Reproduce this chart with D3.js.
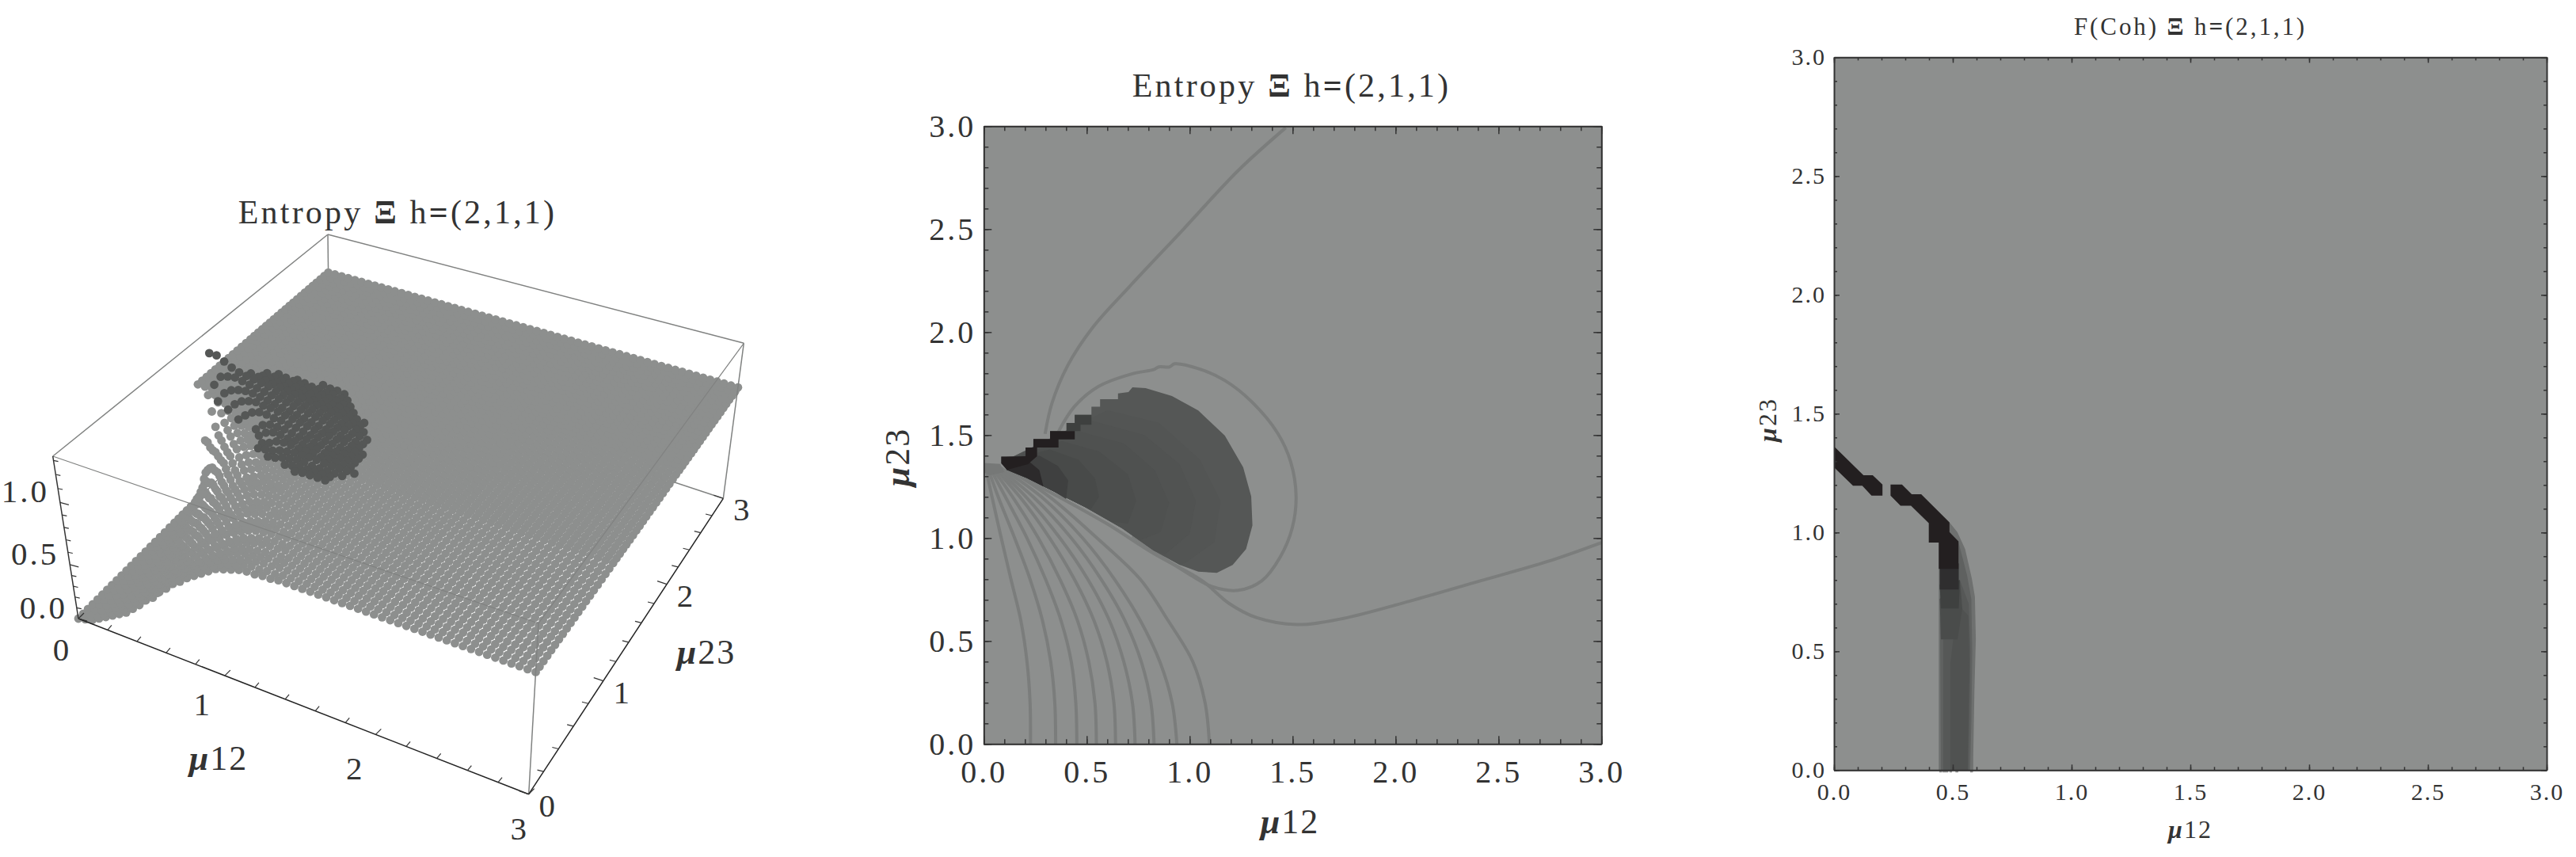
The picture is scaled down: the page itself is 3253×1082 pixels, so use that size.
<!DOCTYPE html>
<html>
<head>
<meta charset="utf-8">
<title>Entropy and F(Coh)</title>
<script src="https://cdn.jsdelivr.net/npm/d3@7"></script>
<style>
  html, body { margin: 0; background: #fff; }
  svg { display: block; }
  text { font-family: "Liberation Serif", serif; fill: #333; }
  .mu { font-style: italic; font-weight: bold; }
  .heavy { font-weight: bold; }
  .tick line, .domain { stroke: #333; }
</style>
</head>
<body>
<svg id="chart" width="3253" height="1082"></svg>
<script>
// ---- data ----
var latticeStep = 0.05
var latticeCount = 61
var plateauZ = 100

// left panel, gray sheet: z*100 per mu23 row, one value per mu12 lattice step from 0. Past the end of a row it is the plateau
var sheetRowMu23 = [0, 0.05, 0.1, 0.15, 0.2, 0.25, 0.3, 0.35, 0.4, 0.45, 0.5, 0.55, 0.6, 0.65, 0.7, 0.75, 0.8, 0.85, 0.9, 0.95, 1, 1.05, 1.1, 1.15, 1.2, 1.25, 1.3, 1.35]
var sheetRowZ = [
  [0,2,4,8,12,16,20,24,30,36,43,48,55,60,66,70,75,79,83,87,91,93,95,97,98,98,99,99],
  [0,2,4,8,12,16,20,24,30,36,43,48,55,60,66,70,75,79,83,87,91,93,95,97,98,98,99,99],
  [0,2,4,8,12,16,20,25,30,37,43,48,55,61,66,71,75,79,84,88,91,93,95,97,98,99,99],
  [0,2,4,8,12,17,21,25,31,37,44,49,56,61,67,71,76,80,84,88,92,94,96,97,98,99,99],
  [0,2,4,8,12,17,21,25,31,37,44,49,56,61,67,71,76,80,84,88,92,94,96,97,98,99,99],
  [0,2,5,8,13,17,21,26,32,38,45,51,57,63,69,73,78,82,86,90,93,95,97,98,99,99],
  [0,2,5,8,13,17,21,26,32,38,45,51,57,63,69,73,78,82,86,90,93,95,97,98,99,99],
  [0,2,5,9,13,18,22,28,34,41,47,54,60,66,71,76,80,85,89,92,95,97,98,99,99],
  [0,2,5,9,13,18,22,28,34,41,47,54,60,66,71,76,80,85,89,92,95,97,98,99,99],
  [0,2,5,9,13,18,23,29,36,42,48,55,61,67,72,77,82,86,90,93,95,97,98,99],
  [0,2,5,9,14,19,24,31,38,44,51,58,64,70,75,80,85,89,93,95,97,98,99],
  [0,3,6,10,14,20,25,32,39,46,54,60,67,72,78,82,87,91,94,96,98,98,99],
  [0,3,6,10,15,20,26,33,41,48,56,63,69,74,79,85,89,93,95,97,98,99],
  [0,3,6,11,16,21,28,36,44,51,59,66,72,77,83,88,92,95,97,98,99],
  [0,3,7,12,17,23,30,38,47,55,62,69,75,80,86,91,94,97,98,99],
  [0,3,7,12,18,24,32,41,49,57,65,72,78,83,89,93,95,98,98,99],
  [0,3,7,13,19,25,34,43,52,60,67,74,80,86,91,94,97,98,99],
  [0,3,8,14,20,28,38,47,57,65,72,79,85,91,94,97,98,99],
  [0,3,9,15,22,31,42,51,61,69,77,83,90,94,96,98,99],
  [0,4,10,17,25,36,47,58,68,76,83,90,94,97,98,99],
  [0,4,11,20,30,43,54,65,75,83,91,95,98,99],
  [0,5,13,22,35,48,61,72,81,90,95,98,99],
  [0,6,16,27,43,58,70,80,91,96,98,99],
  [0,7,19,34,52,68,80,91,97,99],
  [0,10,24,44,64,79,92,98],
  [0,13,35,61,81,95,99],
  [0,22,60,89,99],
  [0,56,98]
]

// left panel, dark dots: row mu23, first mu12, z*100 for each following lattice step
var darkRowMu23 = [1.7, 1.65, 1.6, 1.55, 1.5, 1.45, 1.4, 1.35, 1.3, 1.25, 1.2, 1.15, 1.1, 1.05, 1, 0.95, 0.9, 0.85]
var darkRowStart = [0.7, 0.55, 0.45, 0.4, 0.4, 0.35, 0.1, 0.15, 0.2, 0.3, 0.4, 0.55, 0.6, 0.65, 0.65, 0.75, 0.9, 1]
var darkRowZ = [
  [106,105,105,104],
  [108,107,106,106,105,105,104,104],
  [112,111,110,109,108,107,106,105,105,104,104],
  [114,113,112,111,110,109,108,107,106,105,105,104,104],
  [115,114,113,112,111,110,109,108,107,106,105,105,104,104,103],
  [118,117,116,115,114,113,112,111,110,109,108,107,106,105,104,104],
  [128,128,125,122,120,119,118,117,116,114,113,112,111,110,109,108,107,106,105,105,104,104],
  [108,116,118,119,118,117,116,115,114,113,112,111,110,109,108,107,106,105,105,104,104,103],
  [100,108,112,114,115,115,114,113,112,111,110,109,108,107,106,105,105,104,104,103,103],
  [100,106,110,112,113,112,112,111,110,109,108,107,106,105,105,104,104,103,103],
  [99,104,108,110,110,109,109,108,107,106,105,105,104,104,103,103,103,103],
  [100,105,107,107,107,106,105,105,104,104,103,103,103,103,103],
  [100,104,106,106,105,105,104,104,104,103,103,103,103,103],
  [99,101,104,105,105,104,104,104,103,103,103,103,103],
  [98,99,100,102,103,104,104,104,104,103,103,103,103,103],
  [99,100,102,103,104,104,103,103,103,103,103],
  [102,103,104,104,104,104,104],
  [104,105,105,105,105]
]

// middle panel
var fanMu23 = [0, 0.2, 0.4, 0.6, 0.8, 1, 1.2, 1.34]
var fanMu12 = [
  [0.227,0.225,0.21,0.18,0.132,0.085,0.04,0.01],
  [0.349,0.345,0.325,0.285,0.225,0.15,0.07,0.02],
  [0.452,0.447,0.425,0.375,0.3,0.21,0.105,0.03],
  [0.547,0.54,0.51,0.455,0.37,0.265,0.14,0.04],
  [0.64,0.632,0.598,0.535,0.44,0.32,0.175,0.05],
  [0.735,0.722,0.68,0.61,0.505,0.37,0.205,0.06],
  [0.827,0.812,0.765,0.685,0.57,0.425,0.24,0.07],
  [0.938,0.915,0.855,0.76,0.635,0.48,0.28,0.085],
  [1.096,1.075,1.015,0.895,0.76,0.55,0.32,0.11]
]
var upperBranch = [[1.467,2.993],[1.235,2.784],[0.971,2.501],[0.706,2.219],[0.529,2.022],[0.408,1.838],[0.331,1.654],[0.298,1.506]]
var lowerBranch = [[0.113,1.331],[0.337,1.215],[0.594,1.072],[0.825,0.925],[1.059,0.794],[1.191,0.683],[1.324,0.614],[1.522,0.58],[1.743,0.609],[2.074,0.695],[2.405,0.79],[2.735,0.885],[3,0.978]]
var innerLoop = [[0.363,1.517],[0.44,1.638],[0.555,1.735],[0.722,1.798],[0.825,1.818],[0.85,1.831],[0.902,1.831],[0.927,1.846],[1.042,1.823],[1.171,1.765],[1.299,1.664],[1.427,1.51],[1.491,1.369],[1.517,1.202],[1.498,1.048],[1.44,0.908],[1.35,0.792],[1.235,0.746],[1.107,0.765],[0.978,0.837],[0.85,0.919],[0.722,1.01]]
var tangle = [[0,1.365],[0.08,1.36],[0.1,1.32],[0.03,1.305],[0,1.32]]
var blobOutline = [[0.085,1.395],[0.203,1.397],[0.203,1.44],[0.241,1.44],[0.241,1.481],[0.322,1.481],[0.322,1.519],[0.402,1.519],[0.402,1.559],[0.442,1.559],[0.442,1.598],[0.523,1.598],[0.523,1.638],[0.565,1.638],[0.565,1.674],[0.652,1.674],[0.652,1.702],[0.703,1.709],[0.722,1.732],[0.786,1.728],[0.914,1.69],[1.042,1.619],[1.171,1.497],[1.26,1.343],[1.299,1.202],[1.305,1.062],[1.274,0.946],[1.209,0.869],[1.132,0.831],[1.042,0.837],[0.953,0.869],[0.825,0.94],[0.671,1.048],[0.491,1.151],[0.337,1.228],[0.209,1.292],[0.113,1.331],[0.085,1.363]]
var undersideBack = [[0.953,0.869],[0.825,0.94],[0.671,1.048],[0.491,1.151],[0.337,1.228],[0.209,1.292],[0.113,1.331],[0.09,1.37]]
var blobBandColors = ["#535554", "#515352", "#4f5150", "#4c4e4d", "#484a49", "#3f4040", "#2c2a2b"]
var blobBandArcs = [
  [[0.6,1.62],[0.85,1.56],[1.05,1.38],[1.15,1.18],[1.12,0.98],[0.98,0.88]],
  [[0.52,1.57],[0.78,1.5],[0.95,1.36],[1.03,1.18],[1,1.02],[0.88,0.92]],
  [[0.45,1.52],[0.68,1.46],[0.83,1.33],[0.9,1.17],[0.86,1.03],[0.76,0.99]],
  [[0.38,1.47],[0.56,1.42],[0.7,1.31],[0.74,1.18],[0.7,1.07],[0.62,1.08]],
  [[0.32,1.43],[0.46,1.38],[0.54,1.29],[0.56,1.2],[0.52,1.14]],
  [[0.27,1.4],[0.36,1.35],[0.41,1.28],[0.4,1.19]],
  [[0.21,1.38],[0.27,1.33],[0.29,1.25]]
]
var stairBlack = [[0.085,1.395],[0.203,1.397],[0.203,1.44],[0.241,1.44],[0.241,1.481],[0.322,1.481],[0.322,1.519],[0.442,1.519],[0.442,1.479],[0.363,1.479],[0.363,1.44],[0.259,1.44],[0.259,1.397],[0.215,1.359],[0.113,1.331],[0.085,1.363]]
var stairFade = [[0.402,1.519],[0.402,1.559],[0.442,1.559],[0.442,1.598],[0.523,1.598],[0.523,1.55],[0.47,1.55],[0.47,1.519]]

// right panel
var stripeLeft = [[0,1.363],[0.124,1.241],[0.163,1.241],[0.204,1.202],[0.204,1.155],[0.158,1.155],[0.119,1.197],[0.08,1.197],[0,1.274]]
var stripeRight = [[0.238,1.202],[0.286,1.202],[0.327,1.161],[0.367,1.161],[0.486,1.043],[0.486,1.002],[0.524,0.963],[0.524,0.847],[0.441,0.847],[0.441,0.958],[0.399,0.958],[0.399,1.039],[0.324,1.113],[0.28,1.113],[0.238,1.155]]
var cohColors = ["#6e706f", "#5f6160", "#565857", "#505251", "#4a4c4b", "#3f4140", "#2f2e2f"]
var cohBands = [
  [[0.441,0.958],[0.486,1.043],[0.519,1.002],[0.552,0.93],[0.58,0.807],[0.593,0.73],[0.597,0.553],[0.591,0.33],[0.586,0.052],[0.586,0],[0.441,0]],
  [[0.445,0.84],[0.524,0.96],[0.56,0.82],[0.578,0.72],[0.582,0.5],[0.578,0.2],[0.573,0],[0.45,0]],
  [[0.46,0.6],[0.53,0.8],[0.567,0.7],[0.574,0.5],[0.57,0.2],[0.566,0],[0.46,0]],
  [[0.49,0.45],[0.52,0.7],[0.565,0.65],[0.57,0.45],[0.565,0.2],[0.562,0],[0.49,0]],
  [[0.445,0.72],[0.45,0.55],[0.52,0.55],[0.54,0.68],[0.53,0.8]],
  [[0.445,0.78],[0.45,0.68],[0.525,0.68],[0.53,0.8]],
  [[0.445,0.87],[0.445,0.76],[0.525,0.76],[0.525,0.87]]
]
var cohStubs = [[0.443,0.455],[0.457,0.481],[0.486,0.497],[0.511,0.523],[0.573,0.585]]

// ticks
var ticks12 = d3.range(0, 16).map(function(i) { return i / 5 })
var ticksZ = d3.range(0, 14).map(function(i) { return i / 10 })
var labels12 = [0, 1, 2, 3]
var labelsZ = ["0.0", "0.5", "1.0"]
var minor2d = d3.range(0, 31).map(function(i) { return i / 10 })
var major2d = [0, 0.5, 1, 1.5, 2, 2.5, 3]

// ---- layout ----
var grayFill = "#8d8f8e", darkFill = "#555756", lineGray = "#7b7d7c", boxGray = "#808281"
var svg = d3.select("#chart")

function rotatedTitle(g, x, y, size, parts, spacing) {
  var t = g.append("text").attr("x", x).attr("y", y).attr("font-size", size)
    .attr("text-anchor", "middle").attr("letter-spacing", spacing)
  parts.forEach(function(p) {
    t.append("tspan").attr("class", p[1]).text(p[0])
  })
  return t
}

function muLabel(g, x, y, size, digits, rotate) {
  var t = g.append("text").attr("font-size", size).attr("text-anchor", "middle").attr("letter-spacing", 2)
  if (rotate) t.attr("transform", "translate(" + x + "," + y + ") rotate(-90)")
  else t.attr("x", x).attr("y", y)
  t.append("tspan").attr("class", "mu").text("\u03bc")
  t.append("tspan").text(digits)
}

var titleEntropy = [["Entropy ", ""], ["\u039e", "heavy"], [" h", ""], ["=", "heavy"], ["(2,1,1)", ""]]
var titleCoh = [["F(Coh) ", ""], ["\u039e", "heavy"], [" h", ""], ["=", "heavy"], ["(2,1,1)", ""]]

// ---- left panel: 3D dots ----
var box = {
  a: [99, 781], b: [667.7, 1002.7], c: [913.3, 629.3], d: [416, 465],
  a2: [66.7, 576], b2: [680, 787], c2: [939.3, 433.3], d2: [414, 296]
}
var uScale = d3.scaleLinear().domain([0, 1, 2, 3]).range([0, 0.325, 0.66, 1])
var vScale = d3.scaleLinear().domain([0, 1, 2, 3]).range([0, 0.383, 0.71, 1])
var wScale = d3.scaleLinear().domain([0, 0.5, 1, 1.33]).range([0, 0.332, 0.715, 1])

function project(m12, m23, z) {
  var u = uScale(m12), v = vScale(m23), w = wScale(z)
  var bottom = d3.interpolate(d3.interpolate(box.a, box.b)(u), d3.interpolate(box.d, box.c)(u))(v)
  var top = d3.interpolate(d3.interpolate(box.a2, box.b2)(u), d3.interpolate(box.d2, box.c2)(u))(v)
  return d3.interpolate(bottom, top)(w)
}

var left = svg.append("g")

function boxEdge(from, to, color, width) {
  left.append("line").attr("x1", from[0]).attr("y1", from[1]).attr("x2", to[0]).attr("y2", to[1])
    .attr("stroke", color).attr("stroke-width", width)
}

// edges behind the dots
boxEdge(box.a, box.d, boxGray, 1.5)
boxEdge(box.d, box.c, boxGray, 1.5)
boxEdge(box.d, box.d2, boxGray, 1.5)
boxEdge(box.a2, box.d2, boxGray, 1.5)

var sheetDots = []
d3.range(0, latticeCount).forEach(function(j) {
  var mu23 = j * latticeStep
  var row = sheetRowZ[sheetRowMu23.indexOf(mu23 > 1.351 ? -1 : +mu23.toFixed(2))]
  d3.range(0, latticeCount).forEach(function(i) {
    var z = row && i < row.length ? row[i] : plateauZ
    sheetDots.push({ m12: i * latticeStep, m23: mu23, z: z / 100 })
  })
})
left.append("g").attr("fill", grayFill).selectAll("circle").data(sheetDots).join("circle")
  .attr("cx", function(d) { return project(d.m12, d.m23, d.z)[0] })
  .attr("cy", function(d) { return project(d.m12, d.m23, d.z)[1] })
  .attr("r", 5.4)

var darkDots = []
darkRowZ.forEach(function(row, r) {
  row.forEach(function(z, i) {
    darkDots.push({ m12: darkRowStart[r] + i * latticeStep, m23: darkRowMu23[r], z: z / 100 })
  })
})
left.append("g").attr("fill", darkFill).selectAll("circle").data(darkDots).join("circle")
  .attr("cx", function(d) { return project(d.m12, d.m23, d.z)[0] })
  .attr("cy", function(d) { return project(d.m12, d.m23, d.z)[1] })
  .attr("r", 5.4)

// edges in front of the dots
boxEdge(box.a2, box.b2, boxGray, 1.2)
boxEdge(box.b2, box.c2, boxGray, 1.2)
boxEdge(box.c2, box.d2, boxGray, 1.5)
boxEdge(box.b, box.b2, boxGray, 1.5)
boxEdge(box.c, box.c2, boxGray, 1.5)
boxEdge(box.a, box.a2, "#333", 1.5)
boxEdge(box.a, box.b, "#222", 1.5)
boxEdge(box.b, box.c, "#222", 1.5)

function tick3d(p, dx, dy) {
  left.append("line").attr("x1", p[0]).attr("y1", p[1]).attr("x2", p[0] + dx).attr("y2", p[1] + dy)
    .attr("stroke", "#333").attr("stroke-width", 1.2)
}
ticksZ.forEach(function(z) {
  var major = Math.abs(z * 2 - Math.round(z * 2)) < 1e-6
  tick3d(project(0, 0, z), major ? 11 : 6, major ? 3 : 1.3)
})
ticks12.forEach(function(m) {
  var major = Math.abs(m - Math.round(m)) < 1e-6
  tick3d(project(m, 0, 0), major ? 7 : 5, major ? -7 : -6)
  tick3d(project(3, m, 0), major ? -12 : -8, major ? -4 : -2)
})

var axisFont = 41
var nudge12x = [-22, -29, -27, -13], nudge12y = [53, 50, 57, 57]
left.selectAll("text.l12").data(labels12).join("text").attr("class", "l12")
  .attr("font-size", axisFont).attr("text-anchor", "middle")
  .attr("x", function(d, i) { return project(d, 0, 0)[0] + nudge12x[i] })
  .attr("y", function(d, i) { return project(d, 0, 0)[1] + nudge12y[i] })
  .text(function(d) { return d })
left.selectAll("text.l23").data(labels12).join("text").attr("class", "l23")
  .attr("font-size", axisFont).attr("text-anchor", "middle")
  .attr("x", function(d) { return project(3, d, 0)[0] + 23 })
  .attr("y", function(d) { return project(3, d, 0)[1] + 28 })
  .text(function(d) { return d })
left.selectAll("text.lz").data(labelsZ).join("text").attr("class", "lz")
  .attr("font-size", axisFont).attr("text-anchor", "end").attr("letter-spacing", 3)
  .attr("x", function(d) { return project(0, 0, +d)[0] - 14 })
  .attr("y", function(d) { return project(0, 0, +d)[1] })
  .text(function(d) { return d })

rotatedTitle(left, 502, 282, 42, titleEntropy, 3.2)
muLabel(left, 276, 972, 44, "12", false)
muLabel(left, 892, 838, 44, "23", false)

// ---- shared frame for the two flat panels ----
function flatPanel(px, py, side, opts) {
  var g = svg.append("g").attr("transform", "translate(" + px + "," + py + ")")
  var x = d3.scaleLinear().domain([0, 3]).range([0, side])
  var y = d3.scaleLinear().domain([0, 3]).range([side, 0])
  g.append("rect").attr("width", side).attr("height", side).attr("fill", grayFill)
  return { g: g, x: x, y: y, side: side, opts: opts }
}

function drawFrame(p) {
  var o = p.opts, s = p.side
  function plain(axis, values, size) {
    return axis.tickValues(values).tickSize(-size).tickSizeOuter(0).tickFormat("")
  }
  var sides = [
    [d3.axisBottom, p.x, "translate(0," + s + ")"],
    [d3.axisTop, p.x, null],
    [d3.axisLeft, p.y, null],
    [d3.axisRight, p.y, "translate(" + s + ",0)"]
  ]
  sides.forEach(function(a) {
    var minor = p.g.append("g").attr("transform", a[2]).call(plain(a[0](a[1]), minor2d, o.minorLen))
    minor.selectAll("line").attr("stroke-width", 1.5)
    minor.select(".domain").attr("stroke-width", 2)
    p.g.append("g").attr("transform", a[2]).call(plain(a[0](a[1]), major2d, o.majorLen))
      .selectAll("line").attr("stroke-width", 1.5)
  })
  var fmt = d3.format(".1f")
  var xl = p.g.append("g").attr("transform", "translate(0," + s + ")")
    .call(d3.axisBottom(p.x).tickValues(major2d).tickSize(0).tickPadding(o.xPad).tickFormat(fmt))
  var yl = p.g.append("g")
    .call(d3.axisLeft(p.y).tickValues(major2d).tickSize(0).tickPadding(o.yPad).tickFormat(fmt))
  ;[xl, yl].forEach(function(l) {
    l.select(".domain").remove()
    l.selectAll("text").attr("font-size", o.font).attr("font-family", "Liberation Serif")
      .attr("letter-spacing", o.spacing)
  })
}

function polyLine(p, curve) {
  return d3.line().x(function(d) { return p.x(d[0]) }).y(function(d) { return p.y(d[1]) }).curve(curve || d3.curveLinear)
}

// ---- middle panel: contours ----
var mid = flatPanel(1242.3, 159.3, 780, { minorLen: 6, majorLen: 10, xPad: 20, yPad: 10, font: 40, spacing: 3 })
var midLine = polyLine(mid, d3.curveCatmullRom), midPoly = polyLine(mid)
var contourG = mid.g.append("g").attr("fill", "none").attr("stroke", lineGray).attr("stroke-width", 4)
fanMu12.forEach(function(c) {
  contourG.append("path").attr("d", midLine(c.map(function(m, i) { return [m, fanMu23[i]] })))
})
contourG.append("path").attr("d", midLine(upperBranch))
contourG.append("path").attr("d", midLine(lowerBranch))
contourG.append("path").attr("d", midLine(innerLoop))
mid.g.append("path").attr("d", midPoly(tangle) + "Z").attr("fill", "#767877")
mid.g.append("path").attr("d", midPoly(blobOutline) + "Z").attr("fill", darkFill)
blobBandArcs.forEach(function(arc, i) {
  var pts = [[0.09, 1.37]].concat(arc, undersideBack.filter(function(q) { return q[0] < arc[arc.length - 1][0] }))
  mid.g.append("path").attr("d", midPoly(pts) + "Z").attr("fill", blobBandColors[i])
})
mid.g.append("path").attr("d", midPoly(stairFade) + "Z").attr("fill", "#3e403f")
mid.g.append("path").attr("d", midPoly(stairBlack) + "Z").attr("fill", "#231f20")
drawFrame(mid)
rotatedTitle(svg, 1631, 122, 42, titleEntropy, 3.2)
muLabel(svg, 1629, 1052, 44, "12", false)
muLabel(svg, 1148, 577, 44, "23", true)

// ---- right panel: F(Coh) ----
var right = flatPanel(2316, 72.3, 900, { minorLen: 4, majorLen: 7, xPad: 16, yPad: 10, font: 30, spacing: 2 })
var rightPoly = polyLine(right)
cohBands.forEach(function(b, i) {
  right.g.append("path").attr("d", rightPoly(b) + "Z").attr("fill", cohColors[i])
})
right.g.append("path").attr("d", rightPoly(stripeLeft) + "Z").attr("fill", "#231f20")
right.g.append("path").attr("d", rightPoly(stripeRight) + "Z").attr("fill", "#231f20")
right.g.selectAll("rect.stub").data(cohStubs).join("rect").attr("class", "stub")
  .attr("x", function(d) { return right.x(d[0]) })
  .attr("width", function(d) { return right.x(d[1]) - right.x(d[0]) })
  .attr("y", right.side).attr("height", 3).attr("fill", "#9a9a9a")
drawFrame(right)
rotatedTitle(svg, 2766, 44, 31, titleCoh, 2.9)
muLabel(svg, 2766, 1058, 32, "12", false)
muLabel(svg, 2243, 530, 32, "23", true)
</script>
</body>
</html>
